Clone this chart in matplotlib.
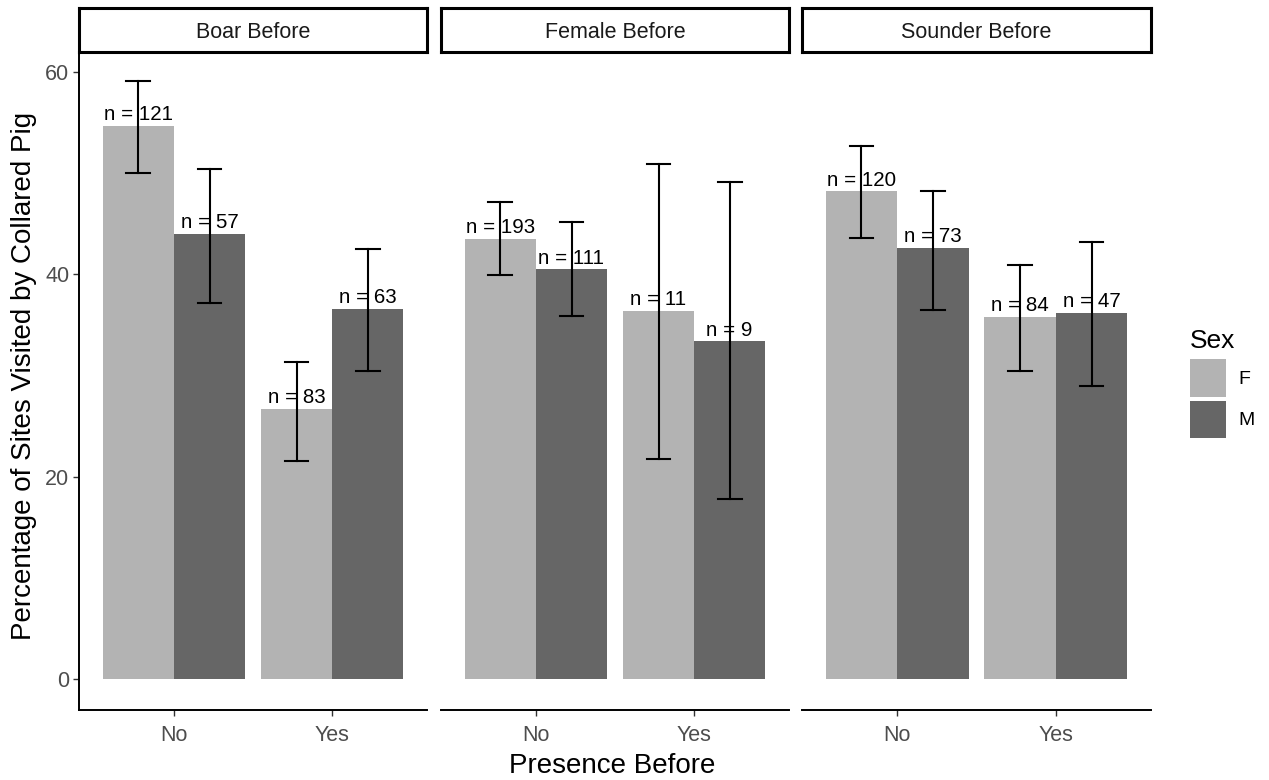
import matplotlib
matplotlib.use('Agg')
import matplotlib.pyplot as plt
from matplotlib.patches import Patch

plt.rcParams['font.family'] = ['Liberation Sans', 'DejaVu Sans']

# data
facets = ['Boar Before', 'Female Before', 'Sounder Before']
presence = ['No', 'Yes']
sexes = ['F', 'M']
sex_colors = ['#B3B3B3', '#666666']

mean_F = [[54.7, 26.7], [43.5, 36.4], [48.2, 35.8]]
mean_M = [[44.0, 36.6], [40.5, 33.4], [42.6, 36.2]]
lo_F = [[50.0, 21.6], [39.9, 21.8], [43.6, 30.4]]
hi_F = [[59.1, 31.3], [47.1, 50.9], [52.7, 40.9]]
lo_M = [[37.2, 30.4], [35.9, 17.8], [36.5, 29.0]]
hi_M = [[50.4, 42.5], [45.2, 49.1], [48.2, 43.2]]
n_F = [[121, 83], [193, 11], [120, 84]]
n_M = [[57, 63], [111, 9], [73, 47]]

W, H = 1269, 780
fig = plt.figure(figsize=(W / 100, H / 100), dpi=100)


def px_axes(x0, y0, x1, y1):
    return fig.add_axes([x0 / W, 1 - y1 / H, (x1 - x0) / W, (y1 - y0) / H])


panel_x = [(79, 427), (441, 789), (802, 1151)]
dodge = 0.45
cap = 0.15
tick_col = '#4D4D4D'

for i, (x0, x1) in enumerate(panel_x):
    ax = px_axes(x0, 52, x1, 710)
    means = [mean_F[i], mean_M[i]]
    los = [lo_F[i], lo_M[i]]
    his = [hi_F[i], hi_M[i]]
    ns = [n_F[i], n_M[i]]
    for s in range(2):
        xs = [k + 1 + (s - 0.5) * dodge for k in range(len(presence))]
        ax.bar(xs, means[s], width=dodge, color=sex_colors[s], linewidth=0, zorder=1)
        for k, x in enumerate(xs):
            ax.plot([x, x], [los[s][k], his[s][k]], color='black', lw=1.5, zorder=3)
            for yy in (los[s][k], his[s][k]):
                ax.plot([x - cap / 2, x + cap / 2], [yy, yy], color='black', lw=1.5, zorder=3)
            ax.annotate(f'n = {ns[s][k]}', (x, means[s][k]), xytext=(0, 4),
                        textcoords='offset points', ha='center', va='baseline',
                        fontsize=14.8, color='black', zorder=2)
    ax.set_xlim(0.4, 2.6)
    ax.set_ylim(-3.05, 61.97)
    ax.set_xticks([1, 2])
    ax.set_xticklabels(presence)
    for sp in ['top', 'right']:
        ax.spines[sp].set_visible(False)
    ax.spines['bottom'].set_linewidth(1.4)
    ax.spines['left'].set_linewidth(1.4)
    ax.tick_params(axis='both', length=4, width=1, color='#333333',
                   labelsize=15.5, labelcolor=tick_col)
    ax.tick_params(axis='x', pad=7)
    ax.tick_params(axis='y', pad=3)
    if i == 0:
        ax.set_yticks([0, 20, 40, 60])
    else:
        ax.spines['left'].set_visible(False)
        ax.set_yticks([])

    # facet strip
    st = px_axes(x0, 8, x1, 52)
    st.set_xticks([])
    st.set_yticks([])
    for sp in st.spines.values():
        sp.set_linewidth(2.2)
        sp.set_color('black')
    st.text(0.5, 0.45, facets[i], ha='center', va='center', fontsize=15.5,
            color='#1A1A1A', transform=st.transAxes)

fig.text(612 / W, 1 - 766 / H, 'Presence Before', ha='center', va='center', fontsize=20)
fig.text(24 / W, 1 - 376 / H, 'Percentage of Sites Visited by Collared Pig',
         ha='center', va='center', rotation=90, fontsize=20)

handles = [Patch(facecolor=c, edgecolor='none') for c in sex_colors]
leg = fig.legend(handles, sexes, title='Sex', loc='upper left',
                 bbox_to_anchor=(1172 / W, 1 - 312 / H), frameon=False,
                 fontsize=14, title_fontsize=19, handlelength=1.9, handleheight=2.6,
                 labelspacing=0.2, handletextpad=0.6, alignment='left')
leg._legend_box.sep = 4

fig.savefig('out.png', dpi=100)
